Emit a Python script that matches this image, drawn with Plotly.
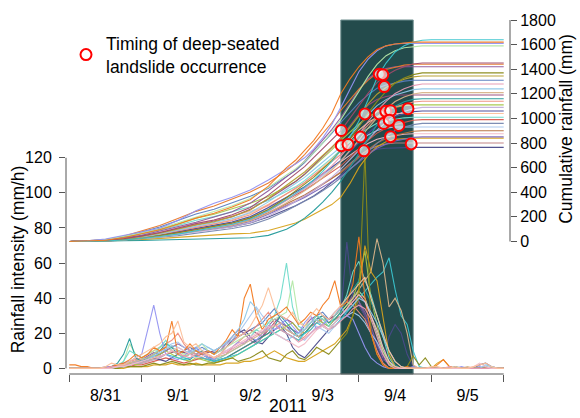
import plotly.graph_objects as go
import pandas as pd

BASE = pd.Timestamp("2011-08-31 00:00")

# ---------------- data ----------------
# hours since 2011-08-31 00:00 for cumulative rainfall samples
cum_hours = [0, 6, 12, 18, 24, 30, 36, 42, 48, 54, 60, 66, 72, 75, 78, 81, 84, 87, 90,
             93, 96, 99, 102, 105, 108, 111, 114, 117, 120, 144]

# cumulative rainfall (mm), one list per gauge
cum_cyan = [0,1,4,12,25,40,60,85,110,140,180,250,340,390,440,500,570,650,740,850,980,1150,1330,1450,1540,1590,1620,1635,1640,1640]
cum_orange = [0,3,10,30,60,95,140,190,230,280,340,450,600,660,740,820,920,1040,1200,1320,1420,1500,1560,1590,1605,1615,1620,1620,1620,1620]
cum_lavender = [0,5,20,50,80,107,170,250,310,360,418,500,590,630,680,750,840,950,1090,1240,1380,1480,1550,1590,1605,1610,1610,1610,1610,1610]
cum_lightgreen = [0,4,15,40,70,105,150,200,240,290,350,440,540,590,650,720,800,890,990,1100,1220,1340,1440,1510,1550,1575,1585,1590,1590,1590]
cum_maroon = [0,3,9,22,44,73,109,145,174,218,276,377,493,551,609,682,754,827,899,1001,1102,1204,1291,1349,1392,1421,1443,1450,1450,1450]
cum_darkorange = [0,4,14,43,86,130,187,245,288,346,403,475,576,634,706,792,878,965,1066,1152,1238,1310,1368,1397,1418,1433,1440,1440,1440,1440]
cum_purple = [0,3,11,28,50,85,121,156,199,241,312,412,525,582,653,738,824,909,1008,1122,1235,1321,1377,1406,1420,1420,1420,1420,1420,1420]
cum_olive = [0,1,5,14,27,48,69,96,123,151,192,260,356,411,466,521,589,658,740,836,932,1041,1137,1219,1288,1329,1356,1370,1370,1370]
cum_goldolive = [0,3,8,20,40,67,101,135,161,202,256,350,457,511,565,632,699,767,834,928,1022,1116,1197,1251,1291,1318,1338,1345,1345,1345]
cum_steelblue = [0,4,13,39,79,118,170,223,262,314,367,432,524,576,642,721,799,878,969,1048,1127,1192,1245,1271,1290,1303,1310,1310,1310,1310]
cum_pink = [0,1,5,13,26,45,64,90,115,141,179,243,333,384,435,486,550,614,691,781,870,973,1062,1139,1203,1242,1267,1280,1280,1280]
cum_skyblue = [0,2,7,19,37,62,93,124,149,186,236,322,422,471,521,583,645,707,769,856,942,1029,1104,1153,1190,1215,1234,1240,1240,1240]
cum_tan = [0,1,5,12,24,42,61,85,109,133,169,230,315,363,411,460,520,581,653,738,823,920,1004,1077,1137,1174,1198,1210,1210,1210]
cum_plum = [0,2,10,24,42,71,101,131,167,202,262,345,440,488,547,619,690,762,845,940,1035,1107,1154,1178,1190,1190,1190,1190,1190,1190]
cum_teal = [0,1,2,5,8,12,15,20,24,27,30,50,100,140,190,250,320,400,490,600,720,840,950,1040,1100,1135,1155,1160,1160,1160]
cum_salmon = [0,2,7,17,34,57,86,114,137,171,217,296,388,433,479,536,593,650,707,787,866,946,1015,1060,1094,1117,1134,1140,1140,1140]
cum_yellowgreen = [0,3,11,33,67,100,144,189,222,266,311,366,444,488,544,611,677,744,821,888,955,1010,1055,1077,1093,1104,1110,1110,1110,1110]
cum_lightpurple = [0,1,4,11,22,38,55,76,98,120,153,207,283,327,371,414,469,523,589,665,741,828,905,970,1025,1057,1079,1090,1090,1090]
cum_darkblue = [0,2,6,16,32,53,80,106,127,159,201,276,360,403,445,498,551,604,657,731,806,880,943,986,1018,1039,1055,1060,1060,1060]
cum_peach = [0,2,8,21,36,62,88,114,146,177,229,302,385,426,478,541,603,666,738,822,905,967,1009,1030,1040,1040,1040,1040,1040,1040]
cum_aqua = [0,3,10,30,61,91,131,172,202,242,283,333,404,444,495,556,616,677,747,808,869,919,960,980,995,1005,1010,1010,1010,1010]
cum_red = [0,2,6,15,30,50,74,99,119,149,188,257,337,376,416,465,515,564,614,683,752,822,881,921,950,970,985,990,990,990]
cum_slategray = [0,1,4,10,19,34,48,67,86,106,134,182,250,288,326,365,413,461,518,586,653,730,797,854,902,931,950,960,960,960]
cum_lightblue = [0,2,7,19,33,56,79,102,130,158,205,270,344,381,428,484,539,595,660,735,809,865,902,921,930,930,930,930,930,930]
cum_brown = [0,2,5,14,27,45,68,90,108,135,171,234,306,342,378,423,468,513,558,621,684,747,801,837,864,882,896,900,900,900]
cum_lightpink = [0,3,9,26,53,79,114,149,175,210,245,289,350,385,429,481,534,586,648,700,753,796,831,849,862,871,875,875,875,875]
cum_mediumpurple = [0,2,5,13,26,43,64,85,102,128,162,221,289,323,357,400,442,485,527,587,646,706,757,791,816,833,846,850,850,850]
cum_goldenrod = [0,1,3,8,15,25,35,45,55,62,67,90,130,150,180,220,260,300,360,470,600,700,770,810,830,838,840,840,840,840]
cum_rosybrown = [0,2,6,16,28,48,68,88,112,136,176,232,296,328,368,416,464,512,568,632,696,744,776,792,800,800,800,800,800,800]
cum_darkslateblue = [0,2,6,15,28,45,65,85,100,120,150,200,260,290,330,370,420,480,540,610,680,730,750,758,762,765,765,765,765,765]

# hourly rainfall intensity (mm/h), sampled every 2 h from 2011-08-31 00:00 to 2011-09-06 00:00
int_hours = list(range(0, 145, 2))
int_lavender = [0,0,0,0,0,0,1,1,2,3,4,6, 8,22,36,20,8,6,5,7,10,12,8,6, 5,8,10,12,15,14,18,16,20,24,22,25, 28,24,20,26,30,22,25,28,32,35,30,28, 20,12,6,3,1,0,0,0,0,1,0,0, 0,0,0,0,0,1,0,0,1,0,0,0, 0]
int_orange = [2,2,1,1,0,0,0,1,2,3,5,8, 6,8,12,10,12,27,8,10,14,10,8,10, 8,12,16,22,18,40,48,30,22,28,30,32, 35,30,25,28,32,30,36,40,50,35,38,48, 75,40,20,8,2,0,0,0,1,0,0,0, 0,2,5,1,0,0,0,0,0,0,0,0, 0]
int_teal = [0,0,0,0,0,0,0,1,3,8,17,6, 4,6,8,10,14,12,8,6,5,8,10,6, 4,5,6,8,10,12,14,16,18,20,24,30, 26,22,18,20,24,28,30,26,28,32,40,45, 50,45,38,30,20,8,2,0,0,0,0,0, 0,0,0,0,1,0,0,0,0,1,0,0, 0]
int_aqua = [0,0,0,0,0,0,0,0,1,4,10,8, 6,5,8,12,16,10,8,6,8,10,8,6, 5,6,8,10,12,14,18,22,20,26,30,40, 60,35,24,22,26,30,28,24,30,34,42,55, 61,50,42,30,18,6,1,0,0,0,0,0, 0,0,0,0,0,0,0,0,0,0,0,0, 0]
int_peach = [0,0,0,0,0,0,1,3,2,2,4,6, 8,10,12,14,18,20,27,15,12,14,10,8, 6,8,12,15,18,20,24,30,36,46,35,30, 28,32,26,24,30,34,30,28,32,36,40,44, 48,52,40,30,20,10,4,1,0,0,0,0, 1,1,0,0,1,0,0,1,2,3,1,0, 0]
int_tan = [0,0,0,0,0,0,0,0,1,2,3,4, 5,6,8,10,12,10,8,7,8,10,9,8, 6,7,8,10,12,14,16,18,20,22,24,26, 22,20,18,22,26,28,24,22,26,30,34,40, 45,50,55,74,60,35,40,33,20,2,0,0, 0,0,0,0,0,0,1,0,0,0,0,0, 0]
int_cyan = [0,0,0,0,0,0,0,0,0,1,2,3, 3,4,5,6,8,7,6,5,6,7,6,5, 4,5,6,7,8,10,12,14,16,18,20,22, 20,18,16,20,22,26,24,22,24,28,32,36, 40,44,48,52,55,63,45,30,25,10,1,0, 0,0,0,0,0,0,0,0,0,0,0,0, 0]
int_olive = [0,0,0,0,0,0,0,0,0,1,1,1, 1,2,3,2,3,4,3,2,3,2,2,3, 3,4,5,6,4,5,6,8,10,6,5,4, 8,10,6,5,8,12,10,8,12,16,20,30, 40,123,20,8,2,0,1,0,1,7,2,6, 1,0,0,0,0,0,0,0,0,0,0,0, 0]
int_goldenrod = [0,0,0,0,0,0,0,0,0,0,1,1, 1,1,2,2,2,3,2,2,2,3,2,2, 2,2,3,3,3,4,4,5,6,8,10,8, 6,5,4,4,6,8,10,12,14,18,22,30, 45,70,55,50,30,8,1,0,0,0,0,0, 0,3,5,1,0,0,0,0,0,0,0,0, 0]
int_darkslateblue = [0,0,0,0,0,0,0,1,1,2,2,3, 4,5,6,5,4,6,8,10,12,10,8,6, 6,8,12,16,20,22,18,15,14,18,22,24, 20,12,8,6,10,14,18,22,26,30,72,40, 36,30,22,12,4,18,25,20,8,1,0,0, 0,0,0,0,0,0,0,0,2,3,1,0, 0]
int_yellowgreen = [0,0,0,0,0,0,0,0,1,2,3,2, 3,4,6,8,10,8,6,5,4,6,5,4, 3,4,5,6,8,10,12,14,16,18,20,22, 24,26,22,20,24,28,26,24,28,32,36,40, 50,67,40,25,10,3,0,0,0,0,0,0, 0,0,0,0,0,0,0,0,0,0,0,0, 0]
int_lightblue = [0,0,0,0,0,0,0,1,2,2,3,4, 5,6,8,10,12,14,15,12,10,8,10,12, 10,12,14,16,20,25,30,35,30,26,22,24, 22,20,18,16,20,24,22,20,24,28,30,32, 30,26,20,15,8,2,0,0,0,0,0,0, 0,0,0,0,0,0,0,0,0,0,1,0, 0]
int_purple = [0,0,0,0,0,0,0,0,1,2,3,4, 5,7,9,8,10,12,14,12,10,8,9,10, 8,10,14,18,22,20,16,14,18,24,28,26, 24,22,20,24,28,30,26,24,28,32,36,42, 38,32,24,14,6,2,0,0,0,0,0,0, 0,0,0,0,0,0,0,0,0,0,0,0, 0]
int_salmon = [0,0,0,0,0,0,0,1,1,2,4,5, 6,8,10,12,14,16,20,14,10,8,6,5, 5,6,8,12,15,18,20,24,28,32,26,22, 20,18,16,18,22,26,28,26,30,34,38,36, 32,28,20,10,3,0,0,0,0,0,0,0, 0,0,0,0,0,0,0,0,0,0,0,0, 0]
int_lightgreen = [0,0,0,0,0,0,0,1,2,4,14,8, 6,8,10,12,14,12,10,8,10,12,14,10, 8,10,12,14,16,18,20,22,24,26,28,30, 32,50,28,24,26,30,28,26,28,32,36,40, 44,40,30,20,10,4,0,0,0,0,0,0, 0,0,0,0,0,0,0,0,0,0,0,0, 0]
int_maroon = [0,0,0,0,0,0,0,1,1,2,2,3, 4,5,6,7,8,9,10,9,8,7,8,9, 10,12,14,16,18,20,22,20,18,22,26,30, 28,26,22,20,24,28,30,28,30,34,38,40, 36,30,20,10,3,0,0,0,0,0,0,0, 0,0,0,0,0,0,0,0,0,0,0,0, 0]
int_lightpink = [0,0,0,0,0,0,0,0,1,1,2,3, 4,5,6,7,8,10,12,10,8,6,7,8, 6,8,10,12,14,16,18,20,22,24,20,18, 16,14,12,14,18,22,24,22,26,30,34,38, 42,38,30,22,12,4,1,0,0,0,0,0, 0,0,0,0,0,0,0,1,3,1,0,0, 0]
int_steelblue = [0,0,0,0,0,0,0,0,1,2,3,4, 5,6,7,8,10,12,10,9,8,10,12,10, 9,10,12,15,18,20,22,24,26,30,34,28, 24,20,18,22,26,30,32,28,30,34,40,44, 38,30,22,14,6,2,0,0,0,0,0,0, 0,0,0,0,0,0,0,0,0,0,0,0, 0]
int_pink = [0,0,0,0,0,0,0,1,1,2,2,3, 3,4,5,6,8,10,9,7,6,8,9,7, 6,8,9,11,13,15,17,19,21,23,25,22, 20,18,15,17,20,23,25,22,24,27,30,34, 36,34,28,18,8,2,0,0,0,0,0,0, 0,0,0,1,0,0,0,0,0,0,0,0, 0]
int_skyblue = [0,0,0,0,0,0,0,0,1,1,2,3, 4,5,7,9,11,13,12,10,9,11,14,12, 10,12,15,18,22,28,38,34,26,22,20,18, 16,18,20,22,26,28,24,22,26,30,33,36, 40,38,32,26,18,10,4,1,0,0,0,0, 0,0,0,0,0,0,0,0,0,2,1,0, 0]
int_red = [0,0,0,0,0,0,0,0,0,1,1,2, 2,3,4,5,6,5,4,3,4,5,6,5, 4,5,6,8,10,12,14,16,18,20,22,24, 22,20,18,20,24,26,28,26,28,30,34,38, 42,40,30,20,8,2,0,0,0,0,0,0, 0,0,0,0,0,0,0,0,0,0,0,0, 0]

# timing of deep-seated landslide occurrence (time, cumulative rainfall mm)
slide_times = ["2011-09-04 06:45", "2011-09-04 07:55", "2011-09-04 08:25", "2011-09-04 02:00",
               "2011-09-04 06:45", "2011-09-04 08:55", "2011-09-04 10:30", "2011-09-04 16:15",
               "2011-09-03 18:10", "2011-09-04 08:15", "2011-09-04 10:05", "2011-09-04 13:15",
               "2011-09-04 00:30", "2011-09-03 18:10", "2011-09-03 20:25", "2011-09-04 10:30",
               "2011-09-04 17:20", "2011-09-04 01:40"]
slide_rain = [1360, 1356, 1259, 1037, 1037, 1058, 1063, 1079, 902, 959, 986, 943,
              849, 779, 788, 852, 793, 737]

# heavy rain period (shaded)
heavy_start = "2011-09-03 18:00"
heavy_end = "2011-09-04 18:00"

day_ticks = ["2011-08-31", "2011-09-06"]
intensity_ticks = [0, 20, 40, 60, 80, 100, 120]
cumulative_ticks = [0, 200, 400, 600, 800, 1000, 1200, 1400, 1600, 1800]

# ---------------- styling ----------------
COLORS = {
    "cyan": "#3BC5CF", "orange": "#F47A20", "lavender": "#9494F2", "lightgreen": "#B5E8A8",
    "maroon": "#A04A6A", "darkorange": "#E8792E", "purple": "#8E5A9E", "olive": "#8B8B1A",
    "goldolive": "#B8A030", "steelblue": "#5A7EC0", "pink": "#E89AB4", "skyblue": "#8EC8EA",
    "tan": "#D8B48A", "plum": "#9A4A7C", "teal": "#239B9B", "salmon": "#F09080",
    "yellowgreen": "#A6C84A", "lightpurple": "#C4B0DC", "darkblue": "#48489A", "peach": "#FCC09A",
    "aqua": "#70DCCC", "red": "#D85A50", "slategray": "#7888B0", "lightblue": "#A8C8F0",
    "brown": "#B8703C", "lightpink": "#F4BCC8", "mediumpurple": "#7C68BE", "goldenrod": "#D8A31C",
    "rosybrown": "#C08080", "darkslateblue": "#4A4A8A",
}

cum_series = {
    "rosybrown": cum_rosybrown, "darkslateblue": cum_darkslateblue, "goldenrod": cum_goldenrod,
    "mediumpurple": cum_mediumpurple, "lightpink": cum_lightpink, "brown": cum_brown,
    "lightblue": cum_lightblue, "slategray": cum_slategray, "red": cum_red, "aqua": cum_aqua,
    "peach": cum_peach, "darkblue": cum_darkblue, "lightpurple": cum_lightpurple,
    "yellowgreen": cum_yellowgreen, "salmon": cum_salmon, "teal": cum_teal, "plum": cum_plum,
    "tan": cum_tan, "skyblue": cum_skyblue, "pink": cum_pink, "steelblue": cum_steelblue,
    "goldolive": cum_goldolive, "olive": cum_olive, "purple": cum_purple,
    "darkorange": cum_darkorange, "maroon": cum_maroon, "lightgreen": cum_lightgreen,
    "lavender": cum_lavender, "cyan": cum_cyan, "orange": cum_orange,
}
int_series = {
    "steelblue": int_steelblue, "maroon": int_maroon, "purple": int_purple, "red": int_red,
    "darkslateblue": int_darkslateblue, "lightblue": int_lightblue, "salmon": int_salmon,
    "yellowgreen": int_yellowgreen, "lightgreen": int_lightgreen, "teal": int_teal,
    "aqua": int_aqua, "lavender": int_lavender, "cyan": int_cyan, "tan": int_tan,
    "goldenrod": int_goldenrod, "olive": int_olive, "orange": int_orange, "skyblue": int_skyblue,
    "pink": int_pink, "lightpink": int_lightpink, "peach": int_peach,
}

cum_x = [BASE + pd.Timedelta(hours=h) for h in cum_hours]
int_x = [BASE + pd.Timedelta(hours=h) for h in int_hours]

fig = go.Figure()

for name, vals in cum_series.items():
    fig.add_trace(go.Scatter(x=cum_x[:len(vals)], y=vals, mode="lines", yaxis="y2",
                             line=dict(color=COLORS[name], width=1.1), opacity=0.95,
                             showlegend=False, hoverinfo="skip"))

for name, vals in int_series.items():
    fig.add_trace(go.Scatter(x=int_x[:len(vals)], y=vals, mode="lines", yaxis="y",
                             line=dict(color=COLORS[name], width=1.1), opacity=0.95,
                             showlegend=False, hoverinfo="skip"))

fig.add_trace(go.Scatter(
    x=pd.to_datetime(slide_times), y=slide_rain, mode="markers", yaxis="y2",
    name="Timing of deep-seated<br>landslide occurrence",
    marker=dict(symbol="circle", size=11, color="rgba(255,255,255,0.62)",
                line=dict(color="#FF0000", width=2)),
    hoverinfo="skip"))

AX = "#555555"
fig.add_shape(type="rect", xref="x", yref="paper", x0=heavy_start, x1=heavy_end, y0=0, y1=1,
              fillcolor="#234B4C", line=dict(color="#6F8F8F", width=1), layer="below")
# axis lines spanning only the labelled ranges
fig.add_shape(type="line", xref="x", yref="paper", x0=day_ticks[0], x1=day_ticks[1], y0=0, y1=0,
              line=dict(color=AX, width=1))
fig.add_shape(type="line", xref="paper", yref="y", x0=0, x1=0, y0=intensity_ticks[0],
              y1=intensity_ticks[-1], line=dict(color=AX, width=1))
fig.add_shape(type="line", xref="paper", yref="y2", x0=1, x1=1, y0=cumulative_ticks[0],
              y1=cumulative_ticks[-1], line=dict(color=AX, width=1))

TITLE_SIZE = 17.5
fig.update_layout(
    width=580, height=418,
    margin=dict(l=66, r=70, t=16, b=44),
    plot_bgcolor="white", paper_bgcolor="white",
    font=dict(family="Liberation Sans, Arial, sans-serif", size=16, color="black"),
    xaxis=dict(type="date", range=["2011-08-30 22:55", "2011-09-06 02:05"],
               tick0="2011-08-31", dtick=86400000, ticklabelmode="period",
               tickformat="%-m/%-d", ticks="outside", ticklen=7, tickcolor=AX,
               showgrid=False, zeroline=False, showline=False),
    yaxis=dict(range=[-3.2, 198.5], tickvals=intensity_ticks, ticks="outside", ticklen=6,
               tickcolor=AX, showgrid=False, zeroline=False, showline=False,
               ticklabelstandoff=4),
    yaxis2=dict(range=[-1076.8, 1800], tickvals=cumulative_ticks, overlaying="y", side="right",
                ticks="outside", ticklen=6, tickcolor=AX, showgrid=False, zeroline=False,
                showline=False),
    legend=dict(x=0.0, y=0.985, xanchor="left", yanchor="top", bgcolor="rgba(0,0,0,0)",
                font=dict(size=TITLE_SIZE), itemwidth=30),
    annotations=[
        dict(text="Rainfall intensity (mm/h)", xref="paper", yref="paper",
             x=(18 - 66) / 444, y=(374 - 258) / 358, textangle=-90, showarrow=False,
             xanchor="center", yanchor="middle", font=dict(size=TITLE_SIZE)),
        dict(text="Cumulative rainfall (mm)", xref="paper", yref="paper",
             x=(566 - 66) / 444, y=(374 - 126) / 358, textangle=-90, showarrow=False,
             xanchor="center", yanchor="middle", font=dict(size=TITLE_SIZE)),
        dict(text="2011", xref="paper", yref="paper", x=0.5, y=(374 - 406) / 358,
             showarrow=False, xanchor="center", yanchor="middle", font=dict(size=TITLE_SIZE)),
    ],
)

fig.write_html("out.html", config={"displayModeBar": False},
               post_script="document.body.style.margin='0';")
